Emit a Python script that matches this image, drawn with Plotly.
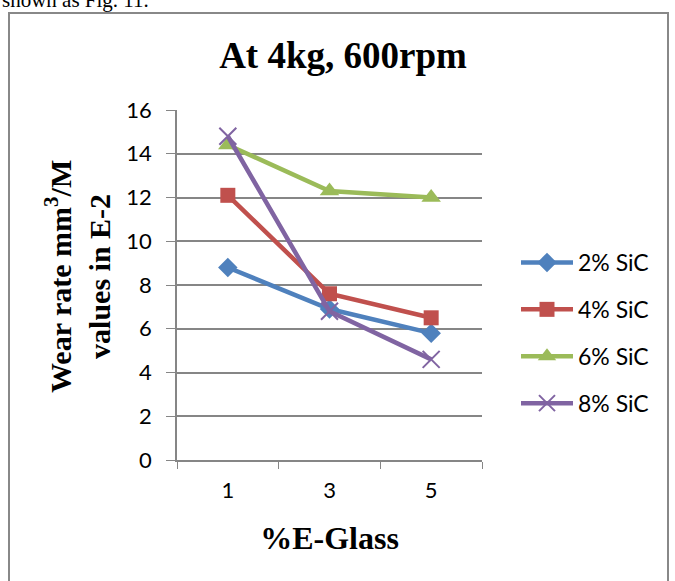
import plotly.graph_objects as go

categories = ["1", "3", "5"]
sic2 = [8.8, 6.9, 5.8]
sic4 = [12.1, 7.6, 6.5]
sic6 = [14.4, 12.3, 12.0]
sic8 = [14.8, 6.8, 4.6]
series_names = ["2% SiC", "4% SiC", "6% SiC", "8% SiC"]
y_ticks = [0, 2, 4, 6, 8, 10, 12, 14, 16]

W, H = 675, 581
L, R, T, B = 177, 482, 110, 460

def px(x):
    return (x - L) / (R - L)

def py(y):
    return (B - y) / (B - T)

colors = ["#4F81BD", "#C0504D", "#9BBB59", "#8064A2"]
symbols = ["diamond", "square", "triangle-up", "x-thin-open"]
sizes = [15, 15, 17, 17]
TICKFONT = "Lato, Calibri, sans-serif"
SERIF = "Liberation Serif, Times New Roman, serif"

fig = go.Figure()
for i, (name, vals) in enumerate(zip(series_names, [sic2, sic4, sic6, sic8])):
    marker = dict(symbol=symbols[i], size=sizes[i], color=colors[i])
    if symbols[i] == "x-thin-open":
        marker["line"] = dict(color=colors[i], width=2)
    fig.add_trace(go.Scatter(
        x=categories, y=vals, name=name, mode="lines+markers",
        line=dict(color=colors[i], width=4.5),
        marker=marker, legendgroup=name, cliponaxis=False,
    ))

fig.update_layout(
    width=W, height=H,
    margin=dict(l=L, r=W - R, t=T, b=H - B),
    paper_bgcolor="white", plot_bgcolor="white",
    showlegend=True,
    legend=dict(x=px(516), y=py(241), xanchor="left", yanchor="top",
                font=dict(family=TICKFONT, size=23, color="black"),
                tracegroupgap=14, itemwidth=52, bgcolor="rgba(0,0,0,0)"),
    xaxis=dict(type="category", tickson="boundaries", ticks="outside", ticklen=7,
               tickcolor="#868686", showline=True, linecolor="#868686", linewidth=1.5,
               showgrid=False, range=[-0.5, 2.5], ticklabelstandoff=10,
               tickfont=dict(family=TICKFONT, size=22, color="black"),
               title=dict(text="<b>%E-Glass</b>", standoff=24,
                          font=dict(family=SERIF, size=32, color="black"))),
    yaxis=dict(range=[0, 16], tickvals=y_ticks, ticks="outside", ticklen=9,
               tickcolor="#868686", showline=True, linecolor="#868686", linewidth=1.5,
               showgrid=True, gridcolor="#868686", gridwidth=1.5, zeroline=False,
               ticklabelstandoff=10,
               tickfont=dict(family=TICKFONT, size=22, color="black")),
    title=dict(text="<b>At 4kg, 600rpm</b>", x=343 / W, xanchor="center", y=1 - 55 / H, yanchor="middle",
               font=dict(family=SERIF, size=37, color="black")),
)

fig.add_annotation(text="<b>Wear rate mm<sup>3</sup>/M<br>values in E-2</b>", textangle=-90,
                   xref="paper", yref="paper", x=px(77), y=py(277), xanchor="center", yanchor="middle",
                   showarrow=False, font=dict(family=SERIF, size=30, color="black"))

fig.add_shape(type="rect", xref="paper", yref="paper",
              x0=px(9), x1=px(668), y0=py(600), y1=py(13),
              line=dict(color="#888888", width=2), fillcolor="rgba(0,0,0,0)", layer="below")

fig.add_annotation(text="shown as Fig. 11.", xref="paper", yref="paper",
                   x=px(0), y=py(0), xanchor="left", yanchor="middle", showarrow=False,
                   font=dict(family=SERIF, size=21, color="black"))

fig.write_html("out.html")
